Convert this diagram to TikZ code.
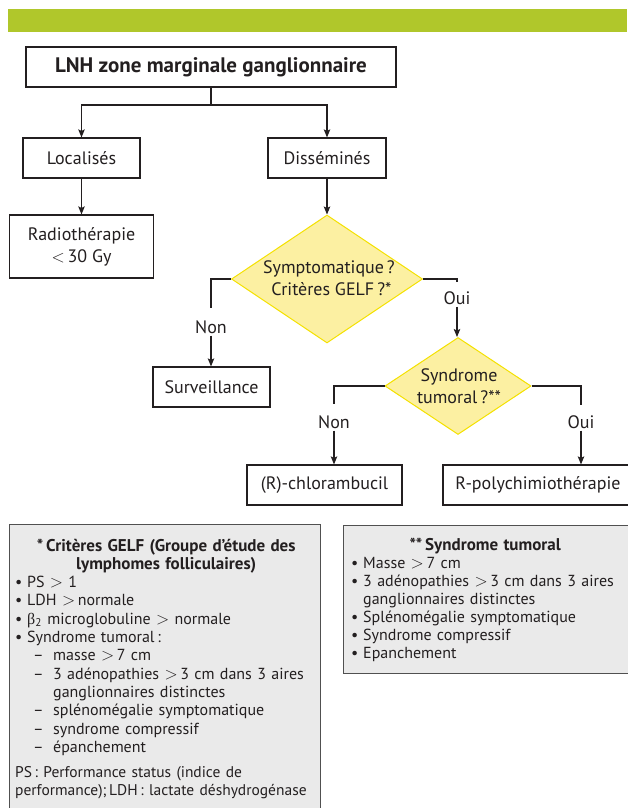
\documentclass[tikz,border=0pt]{standalone}
\usepackage{fontspec}
\setmainfont{PT Sans}
\newfontfamily\grkfont{Liberation Serif}
\usetikzlibrary{shapes.geometric,arrows.meta}
\definecolor{barg}{HTML}{B0C72B}
\definecolor{dfill}{HTML}{FCF0A2}
\definecolor{dline}{HTML}{F4E100}
\definecolor{gfill}{HTML}{EAEAEA}
\definecolor{gline}{HTML}{505050}
\definecolor{ink}{HTML}{231F20}
\newcommand\flowfont{\fontsize{18}{22}\selectfont}
\newcommand\bul[1]{\par\noindent\hangindent=12pt\hangafter=1\makebox[12pt][l]{\textbullet}#1}
\newcommand\dsh[1]{\par\noindent\hangindent=38pt\hangafter=1\hspace*{18pt}\makebox[20pt][l]{–}#1}
\begin{document}
\begin{tikzpicture}[x=1pt,y=-1pt,
  every node/.style={text=ink},
  box/.style={draw=ink, line width=1.2pt, fill=white, rectangle, minimum height=40pt, inner sep=0pt, font=\flowfont, align=center},
  dia/.style={diamond, draw=dline, fill=dfill, line width=1pt, inner sep=0pt},
  dtext/.style={font=\flowfont, align=center, inner sep=0pt},
  lab/.style={font=\flowfont, inner sep=2pt},
  conn/.style={draw=ink, line width=1.1pt},
  arr/.style={conn, -{Stealth[length=8pt,width=6.5pt,inset=1.5pt]}},
  gbox/.style={rectangle, draw=gline, fill=gfill, line width=1.3pt, inner sep=0pt},
  gtext/.style={anchor=base west, inner sep=0pt, align=left}
]
\useasboundingbox (0,0) rectangle (627,808);
\fill[barg] (8,9) rectangle (627,32);

% flowchart nodes
\node[box, minimum width=370pt, font=\fontsize{21}{24}\selectfont\bfseries] (main) at (211,67) {LNH zone marginale ganglionnaire};
\node[box, minimum width=117pt] (loc) at (81.5,158) {Localisés};
\node[box, minimum width=118pt] (dis) at (327,158) {Disséminés};
\node[box, minimum width=144pt, minimum height=63pt] (radio) at (81.5,246.5) {Radiothérapie\\$<$\,30 Gy};
\node[dia, minimum width=191pt, minimum height=128pt] (d1) at (327,279) {};
\node[dtext] (d1t) at (329,278) {Symptomatique\,?\\ \ Critères GELF\,?*};
\node[lab] (non1) at (211,327) {Non};
\node[lab] (oui1) at (457,298) {Oui};
\node[box, minimum width=117pt] (surv) at (211.5,387) {Surveillance};
\node[dia, minimum width=146pt, minimum height=97pt] (d2) at (458,386) {};
\node[dtext] (d2t) at (459,386) {Syndrome\\tumoral\,?**};
\node[lab] (non2) at (334,422) {Non};
\node[lab] (oui2) at (581,422) {Oui};
\node[box, minimum width=155pt] (chl) at (324.5,485) {(R)-chlorambucil};
\node[box, minimum width=190pt] (rpoly) at (538,485) {R-polychimiothérapie};

% connectors
\coordinate (j1) at (211,105);
\draw[conn] (main.south) -- (j1);
\draw[arr] (j1) -| (loc.north);
\draw[arr] (j1) -| (dis.north);
\draw[arr] (loc.south) -- (loc.south |- radio.north);
\draw[arr] (dis.south) -- (d1.north);
\coordinate (n1top) at (211,308);
\draw[conn] (d1.west) -| (n1top);
\draw[arr] (non1.south) -- (non1.south |- surv.north);
\coordinate (o1top) at (457,282);
\draw[conn] (d1.east) -| (o1top);
\draw[arr] (oui1.south) -- (oui1.south |- d2.north);
\coordinate (n2top) at (334,404);
\draw[conn] (d2.west) -| (n2top);
\draw[arr] (non2.south) -- (non2.south |- chl.north);
\coordinate (o2top) at (581,405);
\draw[conn] (d2.east) -| (o2top);
\draw[arr] (oui2.south) -- (oui2.south |- rpoly.north);

% footnote boxes
\node[gbox, anchor=north west, minimum width=311pt, minimum height=300pt] (gelfbox) at (9,524) {};
\node[gbox, anchor=north west, minimum width=300pt, minimum height=148pt] (tumbox) at (343,525) {};

\node[gtext, text width=302pt, font=\fontsize{16}{18.3}\selectfont] (gelf) at (15,551) {%
{\centering\fontsize{17}{18.3}\selectfont\bfseries *\,Critères GELF (Groupe d’étude des\\lymphomes folliculaires)\par}%
\bul{PS $>$ 1}%
\bul{LDH $>$\,normale}%
\bul{{\grkfont β}\textsubscript{2} microglobuline $>$ normale}%
\bul{Syndrome tumoral\,:}%
\dsh{masse $>$\,7 cm}%
\dsh{3 adénopathies $>$\,3 cm dans 3 aires\newline ganglionnaires distinctes}%
\dsh{splénomégalie symptomatique}%
\dsh{syndrome compressif}%
\dsh{épanchement}%
\par\vspace{7pt}\noindent{\fontsize{15.5}{18.3}\selectfont\mbox{PS\,: Performance status (indice de}\newline\mbox{performance);\,LDH\,: lactate déshydrogénase}}};

\node[gtext, text width=268pt, font=\fontsize{16}{18}\selectfont] (tum) at (351,550) {%
{\centering\fontsize{17}{18}\selectfont\bfseries **\,Syndrome tumoral\par}%
\bul{Masse $>$\,7 cm}%
\bul{3 adénopathies $>$\,3 cm dans 3 aires\newline ganglionnaires distinctes}%
\bul{Splénomégalie symptomatique}%
\bul{Syndrome compressif}%
\bul{Epanchement}};
\end{tikzpicture}
\end{document}
